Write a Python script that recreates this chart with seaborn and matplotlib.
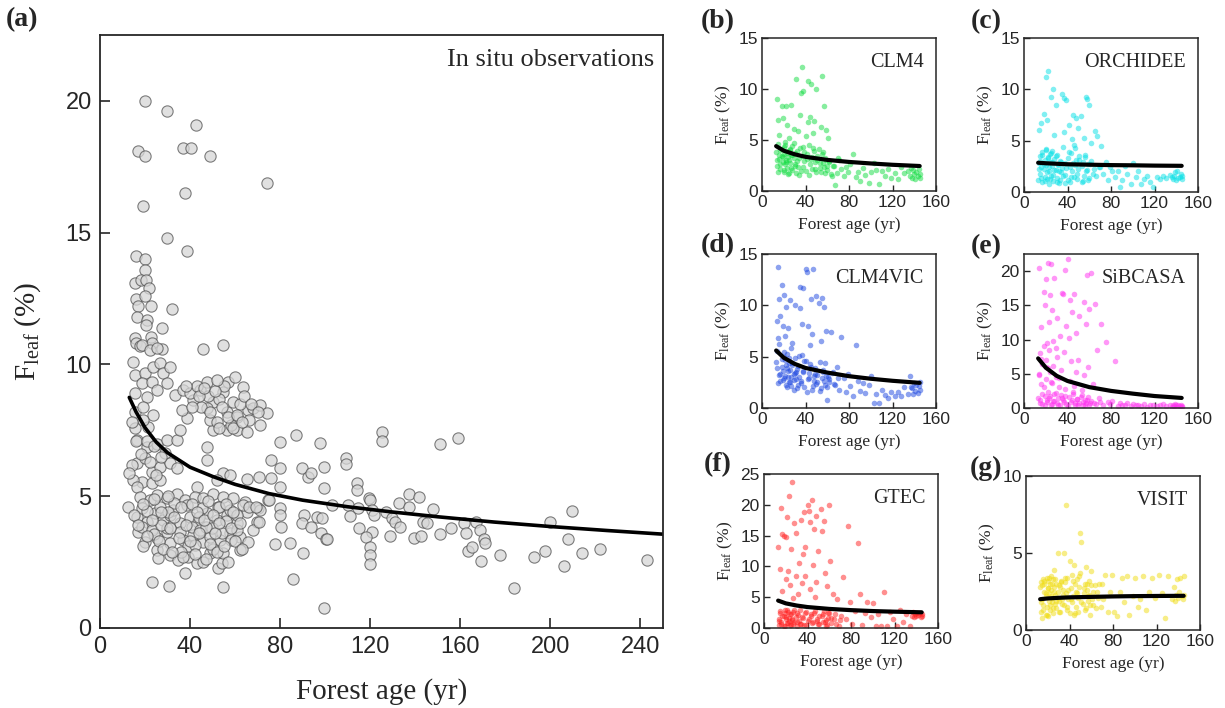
import matplotlib
matplotlib.use("Agg")
import pandas as pd
import matplotlib.pyplot as plt
import seaborn as sns

# ---------------- data ----------------
# (a) in situ observations, (age yr, Fleaf %)
obs_high = [(20.0, 20.0), (29.9, 19.6), (42.8, 19.1), (16.9, 18.1), (20.1, 17.9), (37.0, 18.2),
            (40.3, 18.2), (49.0, 17.9), (74.0, 16.9), (37.9, 16.5), (19.0, 16.0), (29.9, 14.8),
            (38.8, 14.3), (15.8, 14.1), (19.8, 14.0), (20.0, 13.6), (15.4, 13.1), (18.3, 13.2),
            (20.3, 13.2), (21.9, 12.9), (16.1, 12.5), (19.8, 12.6), (22.7, 12.2), (16.8, 12.2),
            (31.8, 12.1), (16.5, 11.8), (21.0, 11.7), (20.6, 11.5), (27.7, 11.4), (15.4, 11.0),
            (15.9, 10.8), (17.9, 10.7), (22.6, 11.05), (22.9, 10.8), (27.7, 10.6), (45.9, 10.6),
            (54.8, 10.75)]
obs_upper_left = [(14.8, 10.1), (18.5, 10.74), (22.2, 10.55), (25.5, 10.61), (15.5, 9.6), (20.0, 9.66),
                  (23.7, 9.91), (26.6, 10.04), (28.1, 9.66), (31.1, 9.91), (18.5, 9.28), (22.9, 9.34),
                  (29.6, 9.28), (15.5, 8.9), (20.7, 8.78), (25.2, 9.03), (33.3, 8.84)]
obs_upper_band = [(37.0, 9.03), (41.4, 8.65), (44.4, 9.03), (47.4, 9.34), (50.3, 8.59), (54.8, 8.97),
                  (57.0, 9.34), (59.9, 9.53), (63.6, 9.15), (59.2, 8.59), (56.3, 8.21), (60.7, 8.02),
                  (65.9, 8.27), (68.1, 8.33), (71.0, 8.46), (74.0, 8.14), (50.3, 7.51), (56.3, 7.51),
                  (60.7, 7.51), (65.1, 7.45), (71.0, 7.70), (48.8, 7.89), (51.8, 7.83), (47.4, 8.33),
                  (38.5, 7.95), (36.3, 8.27), (40, 8.9), (45, 8.4), (53, 8.7), (58, 7.7), (62, 8.5),
                  (66, 7.9), (43, 9.2), (55, 9.2), (48, 8.8), (64, 8.8), (38, 9.2), (41, 8.4),
                  (44, 8.8), (46, 9.1), (49, 8.2), (51, 9.0), (53, 7.6), (54, 8.4), (57, 8.0),
                  (59, 7.6), (61, 8.1), (63, 7.8), (67, 8.5), (70, 8.2), (52, 9.4)]
obs_mid = [(15.5, 8.21), (23.7, 8.08), (21.4, 7.64), (15.5, 7.57), (19.2, 7.89), (16.3, 7.13),
           (20.7, 6.88), (25.2, 7.0), (29.6, 7.13), (34.1, 7.13), (28.9, 6.63), (16.3, 6.25),
           (20.0, 6.44), (22.9, 5.93), (26.6, 6.12), (31.1, 6.25), (34.1, 6.06), (18.5, 5.55),
           (22.9, 5.49), (26.6, 5.61), (14.1, 6.18), (35.5, 7.51), (47.4, 6.88), (47.4, 6.37),
           (42.9, 5.36), (54.8, 5.87), (57.7, 5.80), (51.8, 5.61), (14.8, 5.61), (16.3, 5.36),
           (14, 7.8), (16, 7.1), (18, 6.6), (19, 8.4), (21, 7.1), (22, 6.3), (24, 6.9),
           (25, 5.8), (27, 6.5), (13, 5.9)]
obs_low = [(12.6, 4.6), (17.8, 4.98), (22.2, 4.86), (25.2, 5.05), (29.6, 4.92), (34.1, 5.1),
           (37.7, 4.86), (42.2, 4.98), (45.9, 4.92), (50.3, 5.1), (54.8, 4.98), (59.2, 4.92),
           (64.4, 4.79), (70.3, 4.54), (74.7, 4.86), (16.3, 4.22), (20.7, 4.03), (24.4, 4.35),
           (28.1, 4.1), (31.1, 4.29), (35.5, 3.97), (40.0, 4.22), (43.7, 4.03), (47.4, 4.35),
           (51.8, 4.1), (56.3, 4.29), (60.7, 3.97), (65.1, 4.41), (69.6, 4.03), (17.0, 3.65),
           (20.0, 3.27), (25.2, 3.4), (29.6, 3.65), (31.1, 3.21), (37.0, 3.34), (41.4, 3.53),
           (45.9, 3.27), (48.8, 3.46), (53.3, 3.34), (57.7, 3.59), (62.2, 3.46), (65.9, 3.27),
           (25.2, 2.96), (25.9, 2.64), (31.1, 2.77), (34.8, 2.58), (39.2, 2.71), (42.9, 2.45),
           (45.9, 2.52), (48.8, 2.83), (52.5, 2.26), (54.0, 2.45), (54.8, 2.83), (62.2, 2.96),
           (18.5, 4.54), (26.6, 4.6), (32.5, 4.48), (38.5, 4.67), (45.2, 4.54), (52.5, 4.6),
           (57.7, 4.48), (63.6, 4.67), (18.5, 3.84), (22.9, 3.72), (29.6, 3.78), (35.5, 3.65),
           (40.7, 3.84), (44.4, 3.72), (49.6, 3.78), (54.0, 3.59), (60.7, 3.72), (21, 4.45),
           (27, 3.9), (33, 4.75), (39, 3.1), (44, 4.2), (50, 3.0), (56, 4.05), (24, 3.55),
           (36, 2.9), (47, 3.85), (58, 3.35), (30, 4.4), (42, 3.15), (53, 4.6), (19, 3.1),
           (61, 4.3), (22.9, 1.76), (30.8, 1.59), (37.7, 2.07), (54.8, 1.55)]
obs_low_more = [(15, 4.3), (17, 3.9), (19, 4.7), (21, 3.5), (23, 4.1), (24, 4.9), (26, 3.3), (27, 4.4),
                (28, 3.0), (30, 5.0), (31, 3.8), (32, 2.9), (33, 4.2), (35, 3.4), (36, 4.6), (37, 2.7),
                (38, 3.9), (40, 3.3), (41, 4.7), (42, 2.8), (43, 4.4), (44, 3.6), (46, 4.1), (47, 2.6),
                (48, 4.8), (49, 3.2), (50, 4.3), (51, 3.6), (52, 2.9), (53, 4.0), (55, 3.1), (56, 4.7),
                (57, 2.5), (58, 3.8), (59, 4.4), (60, 3.3), (62, 4.0), (63, 3.0), (66, 4.6), (68, 3.7)]
obs_old = [(86.9, 7.32), (79.8, 7.07), (97.7, 7.03), (75.9, 6.37), (109.1, 6.44), (109.1, 6.22),
           (125, 7.45), (125, 7.1), (150.9, 7.0), (158.8, 7.22), (89.8, 6.06), (92.3, 5.74),
           (93.5, 5.87), (99.6, 6.1), (99.6, 5.3), (79.8, 6.06), (79.8, 5.36), (76.0, 5.68),
           (70.8, 5.74), (65.4, 5.64), (75.0, 4.86), (71.0, 4.48), (69.2, 4.6), (70.6, 4.03),
           (79.8, 4.54), (79.8, 4.29), (80.4, 3.84), (90.4, 4.29), (89.8, 3.97), (96.2, 4.22),
           (98.7, 4.16), (93.9, 3.82), (98.1, 3.59), (100.4, 3.38), (101.0, 3.36), (102.9, 4.67),
           (110.2, 4.67), (110.8, 4.26), (114.5, 4.54), (114.1, 5.49), (114.1, 5.24), (119.3, 4.92),
           (119.7, 4.86), (115.0, 3.81), (120.8, 4.48), (121.6, 4.29), (120.8, 3.65), (117.9, 3.46),
           (119.7, 3.09), (119.7, 2.77), (119.7, 2.43), (128.9, 3.5), (127.0, 4.41), (129.5, 4.19),
           (130.8, 4.03), (132.8, 4.73), (133.3, 3.84), (137.0, 5.1), (137.4, 4.6), (141.8, 4.96),
           (139.5, 3.4), (142.4, 3.49), (143.5, 4.03), (147.9, 4.5), (145.3, 3.97), (150.9, 3.57),
           (155.9, 3.78), (161.6, 4.0), (162.6, 3.6), (163.2, 2.93), (165.1, 3.06), (167.1, 4.03),
           (168.9, 3.72), (169.3, 2.55), (170.7, 3.36), (170.9, 3.24), (177.8, 2.77), (184.0, 1.5),
           (192.8, 2.71), (197.8, 2.93), (199.7, 4.03), (206.0, 2.35), (207.9, 3.36), (209.8, 4.45),
           (214.0, 2.83), (221.9, 3.01), (243.0, 2.58), (85.8, 1.85), (99.6, 0.75), (77.9, 3.19),
           (84.2, 3.21), (90.0, 2.86)]
obs_fit_age = [13, 16, 20, 25, 30, 40, 50, 60, 75, 90, 110, 130, 150, 175, 200, 225, 250]
obs_fit_val = [8.75, 8.2, 7.6, 7.05, 6.65, 6.1, 5.75, 5.45, 5.1, 4.85, 4.6, 4.4, 4.22, 4.02, 3.85, 3.7, 3.56]

# (b)-(g) model output at the site ages
site_age = [13, 14, 14, 15, 15, 16, 16, 17, 17, 18, 18, 19, 19, 20, 20, 20, 21, 21, 22, 22,
            23, 23, 24, 24, 25, 25, 26, 26, 27, 27, 28, 28, 29, 29, 30, 30, 31, 32, 33, 34,
            35, 35, 36, 37, 37, 38, 38, 39, 40, 40, 41, 42, 42, 43, 44, 44, 45, 46, 46, 47,
            48, 48, 49, 50, 50, 51, 52, 53, 54, 55, 55, 56, 57, 58, 58, 59, 60, 61, 62, 63,
            65, 67, 69, 71, 73, 75, 77, 79, 81, 84, 86, 88, 90, 93, 95, 98, 100, 103, 105, 108,
            110, 113, 116, 119, 122, 125, 128, 131, 134, 136, 137, 138, 139, 140, 141, 142, 143, 144, 145, 145]
site_age_more = [14, 15, 16, 17, 18, 19, 20, 21, 22, 23, 24, 25, 26, 27, 28, 29, 30, 31, 32, 33,
                 34, 36, 38, 39, 41, 43, 45, 47, 49, 51, 53, 54, 56, 57, 59, 60, 62, 64, 66, 70]

clm4 = [3.8, 9.0, 2.5, 7.0, 4.6, 3.1, 5.5, 2.2, 4.0, 8.3, 3.4, 2.8, 7.2, 4.3, 1.9, 3.6, 2.6, 4.8, 8.3, 3.0,
        2.3, 6.5, 3.9, 3.3, 1.8, 5.2, 4.1, 2.7, 8.4, 3.5, 2.1, 4.4, 3.2, 6.1, 2.5, 3.7, 11.0, 2.9, 5.9, 1.6,
        7.5, 4.2, 9.6, 3.4, 12.2, 2.4, 9.8, 3.8, 5.4, 2.0, 3.1, 10.8, 6.8, 4.5, 2.6, 7.3, 10.5, 3.3, 2.2, 5.7,
        3.9, 6.9, 2.8, 10.0, 1.9, 3.0, 4.1, 2.3, 6.3, 11.3, 3.6, 2.7, 8.3, 1.8, 3.2, 6.0, 2.5, 5.2, 2.9, 1.7,
        2.5, 0.6, 1.8, 3.0, 2.2, 1.5, 2.4, 1.9, 2.6, 3.6, 1.4, 1.9, 1.0, 2.3, 1.6, 0.8, 1.9, 2.7, 2.1, 0.7,
        2.0, 1.5, 2.2, 1.3, 1.8, 1.2, 2.4, 1.8, 2.0, 1.5, 2.3, 1.3, 2.1, 1.7, 1.2, 1.9, 1.5, 2.2, 1.7, 1.3]
clm4_more = [3.0, 1.9, 3.5, 2.6, 4.1, 3.3, 2.1, 4.5, 2.8, 3.7, 1.7, 3.0, 4.0, 2.3, 3.5, 4.7, 2.6, 1.8, 3.9, 2.4,
             3.2, 2.0, 4.3, 2.9, 3.6, 1.6, 3.1, 4.2, 2.2, 3.4, 2.7, 1.9, 3.8, 2.4, 3.0, 2.1, 2.8, 1.5, 2.5, 3.2]
orchidee = [1.2, 2.8, 6.0, 3.5, 1.8, 6.7, 2.4, 3.9, 1.0, 7.6, 2.2, 3.1, 1.5, 4.2, 11.2, 2.6, 7.0, 1.3, 3.4, 11.8,
            2.0, 0.8, 2.9, 3.7, 9.3, 1.6, 2.5, 4.0, 10.0, 1.1, 5.6, 3.2, 2.1, 8.5, 1.4, 3.6, 2.7, 0.9, 3.0, 1.9,
            9.5, 2.3, 4.4, 5.8, 9.2, 1.7, 2.8, 9.0, 1.2, 3.3, 6.5, 2.4, 1.0, 3.8, 5.2, 2.0, 7.5, 1.5, 4.6, 2.6,
            7.2, 3.1, 1.3, 6.2, 2.2, 3.5, 7.4, 1.0, 2.9, 5.3, 1.6, 3.4, 9.3, 2.1, 9.1, 1.2, 8.5, 2.7, 4.8, 1.8,
            5.9, 5.5, 2.4, 4.5, 1.8, 2.9, 1.2, 2.4, 2.0, 1.5, 2.0, 0.5, 1.2, 2.5, 1.8, 0.8, 2.8, 1.5, 2.0, 0.8,
            1.3, 1.6, 1.0, 0.5, 1.5, 1.3, 1.6, 1.4, 1.7, 1.5, 1.3, 1.6, 1.9, 1.2, 2.0, 1.4, 1.5, 1.8, 1.6, 1.3]
orchidee_more = [2.2, 3.0, 1.4, 3.6, 2.7, 1.1, 4.1, 1.9, 3.3, 2.4, 1.3, 3.8, 2.9, 1.7, 2.1, 3.5, 1.0, 2.6, 2.0, 1.2,
                 2.9, 1.6, 0.9, 2.3, 3.9, 1.5, 2.8, 4.3, 1.8, 3.1, 2.5, 1.1, 3.6, 2.0, 2.7, 1.4, 3.0, 2.2, 1.6, 2.4]
clm4vic = [4.5, 8.5, 5.6, 6.8, 13.7, 3.2, 10.6, 2.6, 9.0, 4.0, 12.0, 8.0, 3.6, 5.0, 11.0, 2.9, 4.7, 7.0, 2.2, 9.8,
           3.9, 5.3, 3.0, 7.8, 4.4, 2.5, 3.7, 10.5, 5.8, 2.1, 4.2, 6.3, 3.3, 2.7, 4.9, 10.0, 3.5, 1.9, 4.1, 3.0,
           9.7, 11.8, 2.4, 5.2, 8.2, 3.6, 11.7, 2.0, 13.5, 4.6, 13.2, 8.0, 2.8, 3.4, 6.1, 4.3, 10.6, 1.8, 7.2, 13.5,
           3.1, 2.6, 3.9, 10.9, 2.3, 3.2, 10.2, 1.7, 6.5, 10.7, 2.9, 3.5, 9.8, 2.2, 4.4, 7.5, 0.8, 3.0, 2.5, 7.4,
           3.5, 2.2, 4.0, 1.8, 6.9, 2.9, 1.6, 3.3, 2.1, 1.2, 6.1, 2.6, 1.7, 2.4, 1.5, 2.2, 3.1, 0.5, 1.4, 0.5,
           1.8, 1.3, 1.0, 1.6, 1.2, 1.6, 1.2, 2.0, 1.4, 3.1, 2.0, 1.9, 1.4, 2.4, 1.7, 2.2, 1.5, 2.1, 1.8, 2.5]
clm4vic_more = [3.9, 2.4, 6.2, 3.3, 4.8, 2.7, 5.5, 3.1, 4.2, 2.0, 3.6, 4.9, 2.5, 3.0, 4.4, 1.8, 3.4, 2.8, 3.8, 2.2,
                5.1, 2.6, 3.5, 4.6, 1.6, 2.9, 4.0, 2.1, 3.3, 2.5, 4.5, 1.9, 3.7, 2.6, 3.1, 2.0, 2.8, 3.4, 2.3, 2.9]
sibcasa = [1.5, 20.5, 5.0, 8.0, 0.8, 11.8, 3.5, 6.5, 2.0, 17.0, 9.0, 15.0, 0.4, 4.2, 7.0, 18.8, 9.5, 1.2, 5.8, 21.2,
           12.5, 8.5, 1.8, 16.5, 3.8, 21.0, 0.6, 14.3, 6.2, 9.8, 19.0, 1.0, 4.5, 2.2, 7.5, 13.2, 0.5, 3.0, 10.5, 5.5,
           16.8, 1.4, 16.6, 8.2, 0.9, 20.2, 1.7, 12.0, 21.8, 0.3, 10.2, 4.0, 15.8, 6.8, 1.1, 14.0, 2.0, 3.2, 16.7, 0.7,
           11.0, 5.2, 1.3, 0.4, 7.0, 13.5, 1.6, 2.6, 0.9, 15.5, 4.8, 0.5, 12.3, 19.5, 1.2, 6.0, 14.5, 0.7, 19.7, 3.5,
           15.2, 8.5, 1.4, 12.2, 0.4, 9.6, 0.9, 0.6, 1.0, 6.9, 0.3, 0.8, 0.5, 0.4, 0.7, 0.3, 0.6, 0.4, 0.5, 0.3,
           0.6, 0.2, 0.4, 0.5, 0.3, 0.4, 0.6, 0.3, 0.4, 0.2, 0.5, 0.3, 0.6, 0.4, 0.2, 0.5, 0.3, 0.4, 0.2, 0.3]
sibcasa_more = [4.8, 1.2, 7.2, 0.6, 3.1, 1.8, 6.0, 0.9, 2.4, 1.5, 5.2, 0.5, 3.6, 1.0, 2.0, 8.8, 0.7, 1.4, 4.4, 0.4,
                1.9, 1.1, 2.8, 0.6, 1.6, 0.9, 2.3, 0.5, 1.3, 0.8, 1.9, 0.4, 1.2, 0.7, 1.6, 0.5, 1.0, 0.8, 0.6, 0.9]
gtec = [13.2, 1.5, 0.5, 9.5, 2.5, 19.5, 1.0, 15.2, 6.0, 2.0, 15.0, 0.4, 3.0, 8.0, 14.8, 1.8, 18.0, 0.8, 2.6, 9.3,
        1.2, 21.5, 7.0, 0.5, 2.2, 12.8, 23.7, 1.5, 4.8, 0.7, 17.0, 2.9, 8.5, 15.5, 1.0, 2.4, 5.5, 10.5, 0.6, 17.5,
        7.3, 1.8, 12.0, 18.9, 0.5, 8.5, 13.2, 2.6, 20.0, 1.2, 19.0, 17.2, 6.3, 2.2, 20.7, 0.8, 10.3, 16.0, 2.5, 5.0,
        18.2, 7.5, 1.4, 12.5, 0.6, 2.0, 19.3, 15.8, 0.9, 17.3, 2.8, 9.0, 1.3, 6.8, 0.5, 2.4, 20.0, 10.8, 1.6, 5.5,
        2.3, 4.7, 0.4, 2.0, 8.3, 1.5, 16.5, 4.3, 0.6, 2.8, 13.8, 5.5, 0.5, 2.5, 4.3, 1.8, 4.0, 0.3, 2.2, 0.4,
        5.8, 0.3, 2.6, 1.5, 0.4, 3.0, 1.0, 2.2, 0.3, 2.0, 2.6, 1.8, 2.3, 1.9, 2.5, 2.1, 2.4, 1.8, 2.2, 2.0]
gtec_more = [1.2, 2.8, 0.6, 1.9, 0.3, 2.4, 1.5, 3.0, 0.8, 1.7, 2.2, 0.5, 1.3, 2.6, 0.9, 1.8, 0.4, 2.1, 1.1, 2.9,
             0.7, 1.6, 2.4, 0.5, 1.4, 2.0, 0.9, 2.7, 1.2, 0.6, 1.9, 2.3, 1.0, 0.4, 1.7, 2.5, 0.8, 1.5, 0.6, 1.3]
visit = [2.8, 1.2, 3.1, 2.0, 0.8, 3.3, 1.6, 2.5, 3.0, 1.0, 2.2, 3.4, 1.5, 2.7, 0.9, 3.2, 1.9, 2.4, 3.0, 1.3,
         2.6, 3.5, 1.8, 2.1, 3.3, 1.1, 2.8, 3.9, 1.7, 2.3, 3.0, 1.4, 2.5, 5.0, 1.9, 2.9, 1.2, 3.2, 2.0, 2.6,
         5.0, 1.6, 3.1, 2.4, 8.1, 1.3, 3.4, 2.0, 4.5, 1.1, 2.7, 3.6, 1.8, 2.2, 4.2, 1.0, 3.0, 2.5, 1.5, 3.3,
         2.1, 1.2, 2.8, 3.7, 6.3, 5.7, 1.7, 2.4, 3.0, 4.1, 1.4, 2.6, 1.9, 3.2, 2.3, 1.0, 3.8, 2.0, 1.6, 2.9,
         2.5, 3.0, 1.5, 2.0, 3.6, 1.2, 2.5, 3.6, 1.2, 0.9, 2.5, 3.4, 1.8, 3.5, 1.0, 2.2, 3.4, 1.5, 2.0, 3.5,
         1.3, 2.5, 3.4, 2.1, 3.6, 2.4, 0.8, 3.5, 2.0, 2.8, 1.9, 2.3, 3.3, 2.1, 2.5, 3.4, 2.2, 2.0, 3.5, 2.3]
visit_more = [1.8, 2.9, 1.3, 3.2, 2.4, 1.0, 2.7, 3.4, 1.6, 2.2, 3.0, 1.4, 2.5, 3.3, 1.9, 2.1, 1.2, 2.8, 3.1, 1.7,
              2.3, 3.4, 1.5, 2.6, 2.0, 3.2, 1.1, 2.4, 3.5, 1.8, 2.7, 1.3, 3.0, 2.2, 1.6, 2.9, 2.5, 1.4, 2.1, 3.0]

fit_age = [13, 20, 30, 40, 60, 80, 100, 120, 145]
clm4_fit = [4.4, 3.95, 3.6, 3.35, 3.05, 2.85, 2.7, 2.57, 2.45]
orchidee_fit = [2.85, 2.8, 2.75, 2.7, 2.66, 2.62, 2.6, 2.57, 2.55]
clm4vic_fit = [5.6, 4.9, 4.3, 3.9, 3.45, 3.1, 2.85, 2.65, 2.45]
sibcasa_fit = [7.25, 5.9, 4.7, 3.95, 3.05, 2.5, 2.1, 1.75, 1.47]
gtec_fit = [4.45, 4.0, 3.65, 3.4, 3.1, 2.9, 2.75, 2.65, 2.55]
visit_fit = [2.0, 2.05, 2.09, 2.12, 2.15, 2.18, 2.2, 2.21, 2.22]

# ---------------- style ----------------
sns.set_theme(style="ticks")
plt.rcParams['font.family'] = ['Liberation Sans', 'DejaVu Sans']
plt.rcParams['mathtext.fontset'] = 'custom'
plt.rcParams['mathtext.rm'] = 'Liberation Serif'
plt.rcParams['mathtext.it'] = 'Liberation Serif:italic'
plt.rcParams['xtick.direction'] = 'in'
plt.rcParams['ytick.direction'] = 'in'
SERIF = 'Liberation Serif'

W, H = 1225, 708


def box(l, t, r, b):
    return [l / W, 1 - b / H, (r - l) / W, (b - t) / H]


fig = plt.figure(figsize=(12.25, 7.08), dpi=100)

# ---------------- (a) ----------------
obs = pd.DataFrame(obs_high + obs_upper_left + obs_upper_band + obs_mid + obs_low + obs_low_more + obs_old,
                   columns=['age', 'fleaf'])
obs_fit = pd.DataFrame({'age': obs_fit_age, 'fleaf': obs_fit_val})

ax = fig.add_axes(box(100, 35, 663, 628))
sns.scatterplot(data=obs, x='age', y='fleaf', ax=ax, s=66, color='#d6d6d6',
                edgecolor='#555555', linewidth=0.8, alpha=0.75, legend=False)
sns.lineplot(data=obs_fit, x='age', y='fleaf', ax=ax, color='black', lw=2.6)
ax.set_xlim(0, 250)
ax.set_ylim(0, 22.5)
ax.set_xticks(range(0, 241, 40))
ax.set_yticks(range(0, 21, 5))
ax.tick_params(labelsize=17, length=7, width=1.2, pad=6)
for sp in ax.spines.values():
    sp.set_linewidth(1.3)
ax.set_xlabel('Forest age (yr)', fontfamily=SERIF, fontsize=21, labelpad=14)
ax.set_ylabel(r'F$_{\mathrm{leaf}}$ (%)', fontfamily=SERIF, fontsize=21, labelpad=16)
ax.text(0.985, 0.958, 'In situ observations', transform=ax.transAxes, ha='right', va='center',
        fontfamily=SERIF, fontsize=19)
fig.text(22 / W, 1 - 20 / H, '(a)', ha='center', va='center', fontfamily=SERIF,
         fontsize=20, fontweight='bold')

# ---------------- (b)-(g) ----------------
ages_all = site_age + site_age_more
panels = [
    ('(b)', 'CLM4', clm4 + clm4_more, clm4_fit, '#10dc40', 15, (762, 38, 936, 191), (718, 22)),
    ('(c)', 'ORCHIDEE', orchidee + orchidee_more, orchidee_fit, '#05e0e6', 15, (1024, 38, 1198, 192), (986, 22)),
    ('(d)', 'CLM4VIC', clm4vic + clm4vic_more, clm4vic_fit, '#1c46e0', 15, (762, 254, 936, 408), (718, 246)),
    ('(e)', 'SiBCASA', sibcasa + sibcasa_more, sibcasa_fit, '#ff30f0', 22.5, (1024, 254, 1198, 408), (986, 247)),
    ('(f)', 'GTEC', gtec + gtec_more, gtec_fit, '#ff2020', 25, (764, 474, 938, 628), (718, 465)),
    ('(g)', 'VISIT', visit + visit_more, visit_fit, '#f0dc10', 10, (1026, 476, 1200, 630), (986, 468)),
]
yticks = {15: [0, 5, 10, 15], 22.5: [0, 5, 10, 15, 20], 25: [0, 5, 10, 15, 20, 25], 10: [0, 5, 10]}

for letter, name, vals, fit, col, ytop, pos, lpos in panels:
    d = pd.DataFrame({'age': ages_all, 'fleaf': vals})
    f = pd.DataFrame({'age': fit_age, 'fleaf': fit})
    a = fig.add_axes(box(*pos))
    sns.scatterplot(data=d, x='age', y='fleaf', ax=a, s=16, color=col, linewidth=0,
                    alpha=0.5, legend=False)
    sns.lineplot(data=f, x='age', y='fleaf', ax=a, color='black', lw=3)
    a.set_xlim(0, 160)
    a.set_ylim(0, ytop)
    a.set_xticks([0, 40, 80, 120, 160])
    a.set_yticks(yticks[ytop])
    a.tick_params(labelsize=12.5, length=4, width=1.0, pad=3)
    for sp in a.spines.values():
        sp.set_linewidth(1.1)
    a.set_xlabel('Forest age (yr)', fontfamily=SERIF, fontsize=12.5, labelpad=5)
    a.set_ylabel(r'F$_{\mathrm{leaf}}$ (%)', fontfamily=SERIF, fontsize=12.5, labelpad=4)
    a.text(0.93, 0.84, name, transform=a.transAxes, ha='right', va='center',
           fontfamily=SERIF, fontsize=14.5)
    fig.text(lpos[0] / W, 1 - lpos[1] / H, letter, ha='center', va='center',
             fontfamily=SERIF, fontsize=20, fontweight='bold')

fig.savefig('out.png', dpi=100)
